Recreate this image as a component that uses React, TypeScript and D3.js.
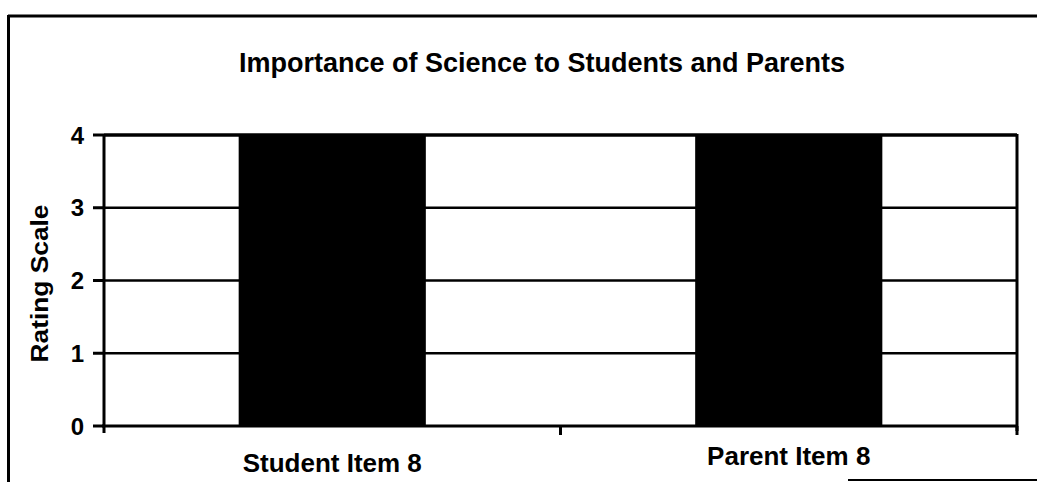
import { useMemo } from 'react';
import * as d3 from 'd3';

const categories = ['Student Item 8', 'Parent Item 8'];
const ratings = [4, 4];
const yTicks = [0, 1, 2, 3, 4];

const title = 'Importance of Science to Students and Parents';
const yLabel = 'Rating Scale';

const size = { width: 1037, height: 482 };
const PLOT = { left: 104, right: 1017, top: 135, bottom: 426 };
const FONT = '"Liberation Sans", Arial, Helvetica, sans-serif';

const App = () => {
  const xScale = useMemo(
    () => d3.scaleBand<string>().domain(categories).range([PLOT.left, PLOT.right]).padding(0),
    [],
  );
  const yScale = useMemo(() => d3.scaleLinear().domain([0, 4]).range([PLOT.bottom, PLOT.top]), []);

  const barWidth = xScale.bandwidth() * 0.41;
  // tick marks sit on the right edge of each band
  const bandEdges = categories.map(c => (xScale(c) || 0) + xScale.bandwidth());

  return (
    <svg
      width={size.width}
      height={size.height}
      style={{ position: 'absolute', left: 0, top: 0, background: '#fff' }}
      fontFamily={FONT}
    >
      {/* outer frame, cut off by the scan */}
      <line x1={8} y1={16} x2={size.width} y2={16} stroke="#000" strokeWidth={3} />
      <line x1={8.5} y1={15} x2={8.5} y2={size.height} stroke="#000" strokeWidth={3} />
      <line x1={848} y1={480} x2={size.width} y2={480} stroke="#000" strokeWidth={2} />

      <text x={542} y={72} textAnchor="middle" fontSize={27} fontWeight={700}>
        {title}
      </text>

      {/* gridlines */}
      {yTicks
        .filter(t => t > 0)
        .map(t => (
          <line
            key={t}
            x1={PLOT.left}
            x2={PLOT.right}
            y1={yScale(t)}
            y2={yScale(t)}
            stroke="#000"
            strokeWidth={t === 4 ? 3.5 : 2.5}
          />
        ))}
      <line x1={PLOT.right} x2={PLOT.right} y1={PLOT.top - 1} y2={PLOT.bottom + 5} stroke="#000" strokeWidth={3} />

      {/* bars */}
      {categories.map((c, i) => (
        <rect
          key={c}
          x={(xScale(c) || 0) + (xScale.bandwidth() - barWidth) / 2}
          y={yScale(ratings[i])}
          width={barWidth}
          height={yScale(0) - yScale(ratings[i])}
          fill="#000"
        />
      ))}

      {/* y axis */}
      <line x1={PLOT.left} x2={PLOT.left} y1={PLOT.top} y2={PLOT.bottom + 7} stroke="#000" strokeWidth={3} />
      {yTicks.map(t => (
        <g key={t}>
          <line x1={PLOT.left - 11} x2={PLOT.left} y1={yScale(t)} y2={yScale(t)} stroke="#000" strokeWidth={3} />
          <text x={84} y={yScale(t)} dy="0.36em" textAnchor="end" fontSize={24} fontWeight={700}>
            {t}
          </text>
        </g>
      ))}
      <text
        transform={`translate(48,${(PLOT.top + PLOT.bottom) / 2 + 3}) rotate(-90)`}
        textAnchor="middle"
        fontSize={23}
        fontWeight={700}
        textLength={158}
        lengthAdjust="spacingAndGlyphs"
      >
        {yLabel}
      </text>

      {/* x axis */}
      <line x1={PLOT.left - 2} x2={PLOT.right} y1={PLOT.bottom} y2={PLOT.bottom} stroke="#000" strokeWidth={3} />
      {bandEdges.map((x, i) => (
        <line key={i} x1={x} x2={x} y1={PLOT.bottom} y2={PLOT.bottom + 9} stroke="#000" strokeWidth={3} />
      ))}
      {categories.map((c, i) => (
        <text
          key={c}
          x={(xScale(c) || 0) + xScale.bandwidth() / 2}
          y={i === 0 ? 472 : 465}
          textAnchor="middle"
          fontSize={26}
          fontWeight={700}
        >
          {c}
        </text>
      ))}
    </svg>
  );
};

export default App;
